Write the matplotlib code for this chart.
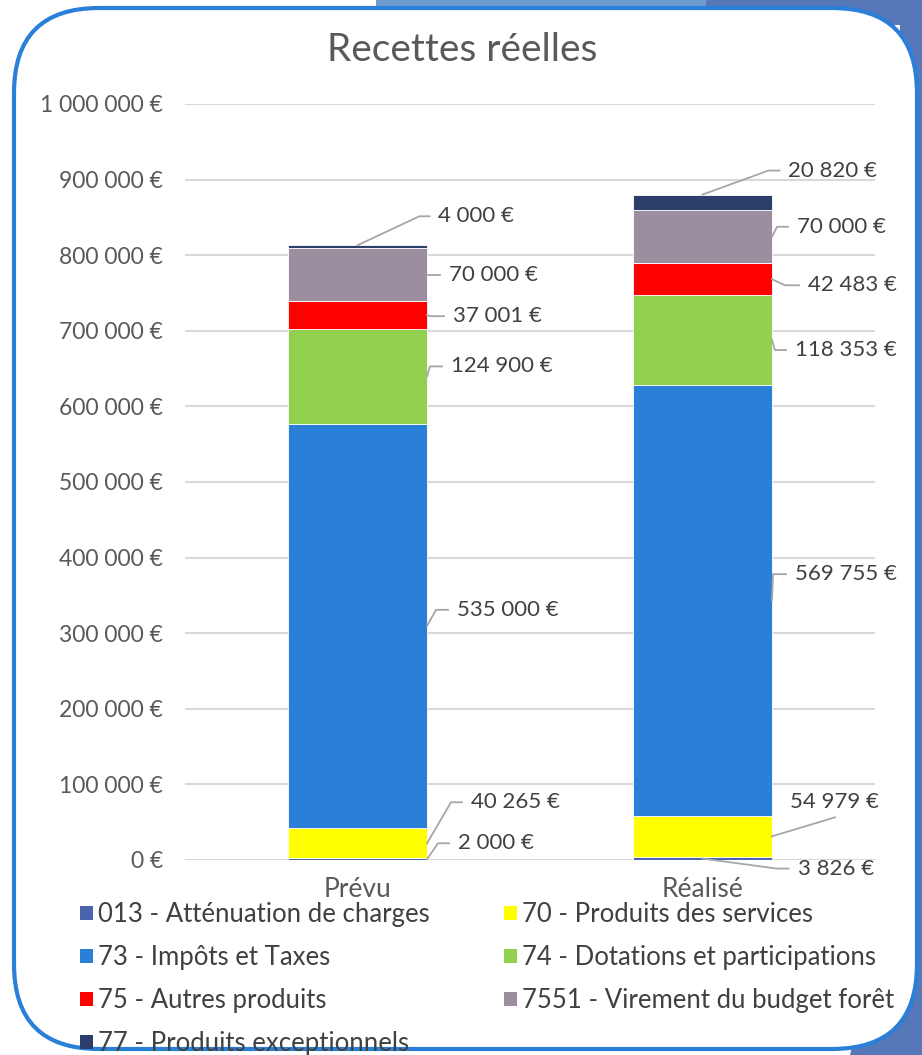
import matplotlib
matplotlib.use('Agg')
import matplotlib.pyplot as plt
from matplotlib.patches import FancyBboxPatch, Polygon, Patch
from matplotlib.transforms import IdentityTransform
import numpy as np

plt.rcParams['font.family'] = ['Lato', 'DejaVu Sans']

# Données
categories = ['Prévu', 'Réalisé']
series = ['013 - Atténuation de charges', '70 - Produits des services',
          '73 - Impôts et Taxes', '74 - Dotations et participations',
          '75 - Autres produits', '7551 - Virement du budget forêt',
          '77 - Produits exceptionnels']
prevu = [2000, 40265, 535000, 124900, 37001, 70000, 4000]
realise = [3826, 54979, 569755, 118353, 42483, 70000, 20820]
colors = ['#4a65ae', '#ffff00', '#2a7fd8', '#92d050', '#ff0000', '#9b8f9f', '#2c3e6a']

yticks = np.arange(0, 1000001, 100000)

def euro(v):
    return f'{v:,.0f}'.replace(',', ' ') + ' €'

# position des étiquettes (ancre, coude en px, x du texte en px, dy du texte)
label_style = {
    0: [('edge', 11, -16, 31, 0), ('edge', 24, -41, 44, 0), ('edge', 9, -16, 30, 0),
        ('edge', 3, -10, 24, 0), ('edge', 4, 1, 26, 0), ('edge', 2, 0, 22, 0),
        ('top', 62, -29, 81, 0)],
    1: [('mid', 74, 10, 95, 0), ('edge', 63, -19, 18, -15), ('edge', 1, -26, 23, 0),
        ('edge', 3, 10, 23, 0), ('edge', 13, 6, 36, 0), ('edge', 5, -10, 25, 0),
        ('top', 66, -24, 86, 0)],
}

W, H = 922, 1055
fig = plt.figure(figsize=(W / 100, H / 100), dpi=100)
fig.patch.set_facecolor('white')

# fond bleu à droite
bg = Polygon([(376, H), (W, H), (W, 0), (850, 0), (900, 200), (900, H - 25), (376, H - 25)],
             closed=True, transform=IdentityTransform(), facecolor='#5677b8',
             edgecolor='none', zorder=-30)
fig.patches.append(bg)
bg2 = Polygon([(376, H), (706, H), (706, H - 25), (376, H - 25)],
              closed=True, transform=IdentityTransform(), facecolor='#6c9bcd',
              edgecolor='none', zorder=-29)
fig.patches.append(bg2)
frame = FancyBboxPatch((14, 6), 903, 1041, boxstyle='round,pad=0,rounding_size=85',
                       transform=IdentityTransform(), facecolor='white',
                       edgecolor='#2a7fd8', linewidth=3, zorder=-20)
fig.patches.append(frame)

ax = fig.add_axes([185 / W, 1 - 860 / H, 690 / W, 756 / H])
ax.set_facecolor('none')
x = np.arange(len(categories))
width = 0.403
data = np.array([prevu, realise]).T
bottoms = np.zeros(len(categories))
for i, name in enumerate(series):
    ax.bar(x, data[i], width, bottom=bottoms, color=colors[i], edgecolor='white',
           linewidth=0.6, label=name, zorder=3)
    bottoms += data[i]

ax.set_xlim(-0.5, 1.5)
ax.set_ylim(0, 1000000)
ax.set_yticks(yticks)
ax.set_yticklabels([euro(v) for v in yticks], fontsize=16.5, color='#595959')
ax.set_xticks(x)
ax.set_xticklabels(categories, fontsize=19, color='#595959')
ax.tick_params(length=0)
ax.tick_params(axis='y', pad=16)
ax.tick_params(axis='x', pad=12)
ax.grid(axis='y', color='#d9d9d9', linewidth=1.5, zorder=0)
for s in ax.spines.values():
    s.set_visible(False)

fig.text(462 / W, 1 - 50 / H, 'Recettes réelles', ha='center', va='center',
         fontsize=28, color='#595959')

# étiquettes de données avec lignes de rappel
fig.canvas.draw()
to_disp = ax.transData.transform
to_data = ax.transData.inverted().transform
for b, vals in enumerate([prevu, realise]):
    cum = np.concatenate([[0], np.cumsum(vals)])
    for i, v in enumerate(vals):
        kind, kx, ky, tx, tdy = label_style[b][i]
        if kind == 'edge':
            ax_pt = (x[b] + width / 2, cum[i] + v / 2)
        elif kind == 'top':
            ax_pt = (x[b], cum[i + 1])
        else:
            ax_pt = (x[b], cum[i] + v / 2)
        px, py = to_disp(ax_pt)
        pts = [(px, py), (px + kx, py - ky)]
        if tx - 9 > kx:
            pts.append((px + tx - 9, py - ky))
        pts = to_data(np.array(pts))
        ax.plot(pts[:, 0], pts[:, 1], color='#a6a6a6', linewidth=1.3,
                clip_on=False, zorder=4)
        tpos = to_data((px + tx, py - ky - tdy))
        ax.text(tpos[0], tpos[1], euro(v), ha='left', va='center', fontsize=16,
                color='#404040', clip_on=False, zorder=5)

# légende
order = [0, 2, 4, 6, 1, 3, 5]
handles = [Patch(facecolor=colors[i], label=series[i]) for i in order]
fig.legend(handles=handles, ncol=2, loc='upper left',
           bbox_to_anchor=(80 / W, 1 - 902 / H), frameon=False, fontsize=18.5,
           labelcolor='#404040', handlelength=0.5, handleheight=0.5,
           handletextpad=0.2, columnspacing=2.9, labelspacing=0.7,
           borderaxespad=0, borderpad=0)

fig.savefig('out.png', dpi=100)
